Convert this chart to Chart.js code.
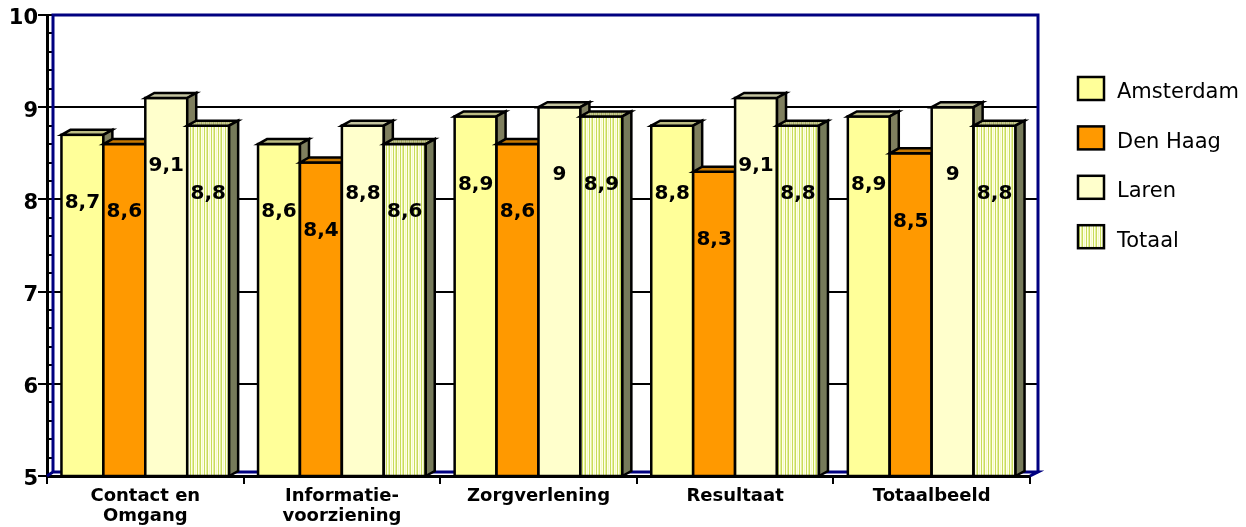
<!DOCTYPE html>
<html>
<head>
<meta charset="utf-8">
<script src="https://cdn.jsdelivr.net/npm/chart.js@4/dist/chart.umd.min.js"></script>
<style>
  html, body { margin: 0; padding: 0; background: #fff; }
  #wrap { width: 1246px; height: 527px; position: relative; }
</style>
</head>
<body>
<div id="wrap"><canvas id="chart"></canvas></div>
<script>
/* ── Données ── */
const CATEGORIES = [['Contact en', 'Omgang'], ['Informatie-', 'voorziening'], 'Zorgverlening', 'Resultaat', 'Totaalbeeld'];
const SERIES = ['Amsterdam', 'Den Haag', 'Laren', 'Totaal'];
const AMSTERDAM = [8.7, 8.6, 8.9, 8.8, 8.9];
const DEN_HAAG  = [8.6, 8.4, 8.6, 8.3, 8.5];
const LAREN     = [9.1, 8.8, 9.0, 9.1, 9.0];
const TOTAAL    = [8.8, 8.6, 8.9, 8.8, 8.8];
const Y_MIN = 5, Y_MAX = 10, Y_STEP = 1;

const FONT = 'DejaVu Sans, Verdana, sans-serif';
const DX = 9, DY = 5;          // profondeur 3D
const LABEL_DROP = 68;         // étiquettes sous le sommet

/* Motif rayé pour "Totaal" */
function stripes(cols) {
  const c = document.createElement('canvas');
  c.width = cols.length; c.height = 4;
  const g = c.getContext('2d');
  cols.forEach((col, i) => { g.fillStyle = col; g.fillRect(i, 0, 1, 4); });
  return g.createPattern(c, 'repeat');
}
const totaalFront = stripes(['#FFFFE8', '#C8DC5A', '#FFFFE8', '#E4EEA0', '#C8DC5A', '#FFFFE8', '#F4F8C8']);
const totaalTop = stripes(['#C8C898', '#A8B060', '#C8C898', '#B8C078']);

const STYLE = [
  { front: '#FFFF99', top: '#BDBD84', side: '#7F7F5E' },
  { front: '#FF9900', top: '#C87800', side: '#7F5A20' },
  { front: '#FFFFCC', top: '#C4C4A0', side: '#7F7F5E' },
  { front: totaalFront, top: totaalTop, side: '#767A5A' },
];

/* ── Mur du fond, grille, petites graduations ── */
const wallPlugin = {
  id: 'wall',
  beforeDatasetsDraw(chart) {
    const { ctx, chartArea: ca, scales: { y } } = chart;
    ctx.save();
    ctx.strokeStyle = '#000';
    ctx.lineWidth = 2;
    for (let v = Y_MIN + Y_STEP; v < Y_MAX; v += Y_STEP) {
      const py = Math.round(y.getPixelForValue(v));
      ctx.beginPath(); ctx.moveTo(ca.left + 6, py); ctx.lineTo(ca.right + 8, py); ctx.stroke();
    }
    // petites graduations (pas de 0,2)
    for (let k = 0; k <= 25; k++) {
      const py = Math.round(y.getPixelForValue(Y_MIN + k * 0.2));
      ctx.beginPath(); ctx.moveTo(ca.left, py); ctx.lineTo(ca.left + 6, py); ctx.stroke();
    }
    ctx.strokeStyle = '#000080';
    ctx.lineWidth = 3;
    ctx.beginPath();
    ctx.moveTo(ca.left, ca.bottom); ctx.lineTo(ca.left + 6, ca.bottom - 4);
    ctx.lineTo(ca.right + 8, ca.bottom - 4); ctx.lineTo(ca.right, ca.bottom);
    ctx.moveTo(ca.left + 6, ca.bottom - 4); ctx.lineTo(ca.left + 6, ca.top);
    ctx.lineTo(ca.right + 8, ca.top); ctx.lineTo(ca.right + 8, ca.bottom - 4);
    ctx.stroke();
    ctx.restore();
  }
};

/* ── Barres 3D + étiquettes ── */
const bars3dPlugin = {
  id: 'bars3d',
  afterDatasetsDraw(chart) {
    const { ctx, chartArea: ca } = chart;
    ctx.save();
    ctx.lineWidth = 2.5;
    ctx.strokeStyle = '#000';
    chart.data.datasets.forEach((ds, di) => {
      const st = STYLE[di];
      chart.getDatasetMeta(di).data.forEach(bar => {
        const p = bar.getProps(['x', 'y', 'base', 'width'], true);
        const { x, y, width } = p;
        const base = Math.min(p.base, ca.bottom);
        const l = x - width / 2, r = x + width / 2;
        // face avant
        ctx.fillStyle = st.front;
        ctx.fillRect(l, y, width, base - y);
        ctx.strokeRect(l, y, width, base - y);
        // dessus
        ctx.beginPath();
        ctx.moveTo(l, y); ctx.lineTo(l + DX, y - DY); ctx.lineTo(r + DX, y - DY); ctx.lineTo(r, y); ctx.closePath();
        ctx.fillStyle = st.top; ctx.fill(); ctx.stroke();
        // côté
        ctx.beginPath();
        ctx.moveTo(r, y); ctx.lineTo(r + DX, y - DY); ctx.lineTo(r + DX, base - DY); ctx.lineTo(r, base); ctx.closePath();
        ctx.fillStyle = st.side; ctx.fill(); ctx.stroke();
      });
    });
    ctx.fillStyle = '#000';
    ctx.font = 'bold 20px ' + FONT;
    ctx.textAlign = 'center';
    ctx.textBaseline = 'middle';
    chart.data.datasets.forEach((ds, di) => {
      chart.getDatasetMeta(di).data.forEach((bar, i) => {
        const { x, y } = bar.getProps(['x', 'y'], true);
        ctx.fillText(String(ds.data[i]).replace('.', ','), x, y + LABEL_DROP);
      });
    });
    ctx.restore();
  }
};

/* ── Légende ── */
const legendPlugin = {
  id: 'sideLegend',
  afterDraw(chart) {
    const { ctx } = chart;
    ctx.save();
    chart.data.datasets.forEach((ds, di) => {
      const top = 77 + di * 49.4;
      ctx.fillStyle = STYLE[di].front;
      ctx.fillRect(1078, top, 26, 23);
      ctx.lineWidth = 2.5; ctx.strokeStyle = '#000';
      ctx.strokeRect(1078, top, 26, 23);
      ctx.fillStyle = '#000';
      ctx.font = '21px ' + FONT;
      ctx.textBaseline = 'middle';
      ctx.textAlign = 'left';
      ctx.fillText(ds.label, 1117, top + 16);
    });
    ctx.restore();
  }
};

new Chart(document.getElementById('chart'), {
  type: 'bar',
  data: {
    labels: CATEGORIES,
    datasets: [AMSTERDAM, DEN_HAAG, LAREN, TOTAAL].map((d, i) => ({
      label: SERIES[i],
      data: d,
      backgroundColor: STYLE[i].front,
      borderColor: '#000',
      borderWidth: 2,
      categoryPercentage: 0.853,
      barPercentage: 1,
    }))
  },
  options: {
    responsive: true,
    maintainAspectRatio: false,
    animation: false,
    layout: { padding: { top: 15, right: 216, left: 0, bottom: 0 } },
    plugins: { legend: { display: false }, tooltip: { enabled: false } },
    scales: {
      x: {
        afterFit: s => { s.height = 51; },
        border: { display: true, color: '#000', width: 3 },
        grid: { display: true, drawOnChartArea: false, color: '#000', lineWidth: 2, tickLength: 8, offset: true },
        ticks: { color: '#000', font: { family: FONT, size: 18, weight: 'bold', lineHeight: 1.12 }, maxRotation: 0, autoSkip: false, padding: 2 }
      },
      y: {
        min: Y_MIN, max: Y_MAX,
        afterFit: s => { s.width = 47; },
        border: { display: true, color: '#000', width: 3 },
        grid: { display: true, drawOnChartArea: false, color: '#000', lineWidth: 2, tickLength: 9 },
        ticks: { stepSize: Y_STEP, color: '#000', font: { family: FONT, size: 21, weight: 'bold' }, padding: 0, labelOffset: 4 }
      }
    }
  },
  plugins: [wallPlugin, bars3dPlugin, legendPlugin]
});
</script>
</body>
</html>
